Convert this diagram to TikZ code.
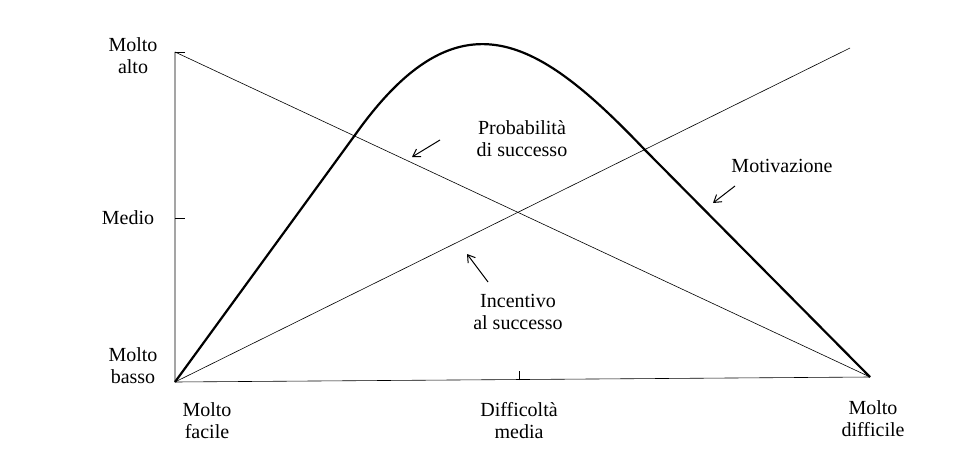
\documentclass[tikz,border=0pt]{standalone}
\usetikzlibrary{arrows.meta}
\usepackage{fontspec}
\setmainfont{Liberation Serif}
\begin{document}
\begin{tikzpicture}[x=1pt,y=-1pt,
  lbl/.style={font=\fontsize{20}{22}\selectfont,align=center,inner sep=0},
  thin line/.style={line width=0.6pt},
  arr/.style={-{Straight Barb[length=7pt,width=9pt]},line width=1pt}]
\useasboundingbox (0,0) rectangle (960,465);
\coordinate (O) at (175,382);
\coordinate (T) at (175,52);
\coordinate (R) at (870,377);
\coordinate (IR) at (850,48);
\coordinate (A) at (355,135);
\coordinate (B) at (645,150);
\draw[thin line] (T) -- (O) -- (R);
\draw[thin line] (T) -- (R);
\draw[thin line] (O) -- (IR);
\draw[thin line] (T) -- ++(10,0);
\draw[thin line] (175,218) -- ++(10,0);
\draw[thin line] (519,380) -- ++(0,-9);
\draw[line width=2.2pt,line join=round] (O) -- (A) .. controls (460,-13) and (540,40) .. (B) -- (R);
\node[lbl] (ma) at (133,56) {Molto\\alto};
\node[lbl] (me) at (128,218) {Medio};
\node[lbl] (mb) at (133,366) {Molto\\basso};
\node[lbl] (mf) at (207,421) {Molto\\facile};
\node[lbl] (dm) at (519,421) {Difficoltà\\media};
\node[lbl] (md) at (873,419) {Molto\\difficile};
\node[lbl] (ps) at (522,139) {Probabilità\\di successo};
\node[lbl] (mo) at (782,166) {Motivazione};
\node[lbl] (is) at (518,312) {Incentivo\\al successo};
\coordinate (a1s) at (440,140); \coordinate (a1e) at (412,157);
\coordinate (a2s) at (735,186); \coordinate (a2e) at (713,203);
\coordinate (a3s) at (488,282); \coordinate (a3e) at (467,254);
\draw[arr] (a1s) -- (a1e);
\draw[arr] (a2s) -- (a2e);
\draw[arr] (a3s) -- (a3e);
\end{tikzpicture}
\end{document}
